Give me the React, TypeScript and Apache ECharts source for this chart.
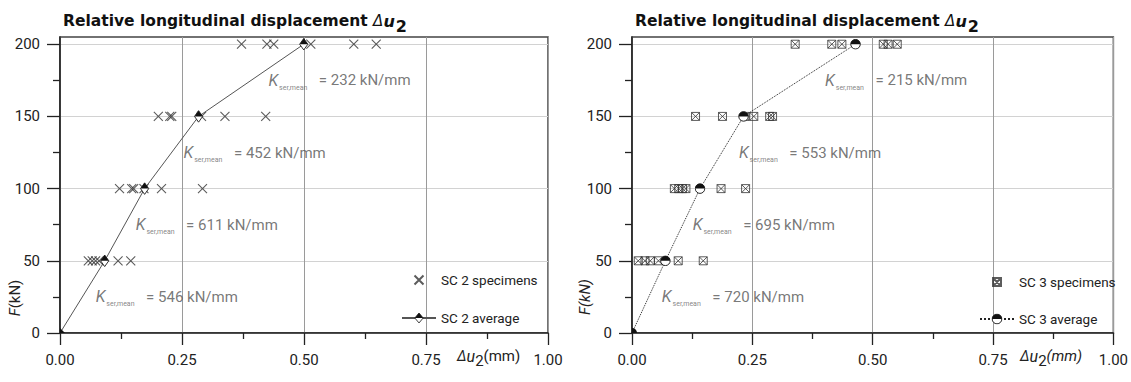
import React, { useEffect, useRef } from 'react';
import * as echarts from 'echarts';

// ---------- data ----------
const averageF = [0, 50, 100, 150, 200];
const specimenF = [50, 100, 150, 200];

const sc2Specimens = [
  [0.058, 0.066, 0.073, 0.08, 0.119, 0.145],
  [0.122, 0.147, 0.151, 0.172, 0.208, 0.292],
  [0.2015, 0.225, 0.229, 0.29, 0.338, 0.4215],
  [0.372, 0.424, 0.438, 0.514, 0.602, 0.648],
];
const sc2AverageX = [0, 0.0916, 0.1734, 0.284, 0.4995];

const sc3Specimens = [
  [0.013, 0.027, 0.038, 0.055, 0.096, 0.148],
  [0.088, 0.097, 0.105, 0.112, 0.185, 0.236],
  [0.132, 0.188, 0.235, 0.253, 0.286, 0.292],
  [0.339, 0.415, 0.436, 0.522, 0.532, 0.551],
];
const sc3AverageX = [0, 0.0694, 0.1413, 0.2317, 0.4643];

const sc2Stiffness = [546, 611, 452, 232];
const sc3Stiffness = [720, 695, 553, 215];
const sc2LabelX = [0.072, 0.154, 0.252, 0.426];
const sc3LabelX = [0.061, 0.125, 0.221, 0.4];
const labelF = [25, 75, 125, 175];

const yTickValues = [0, 50, 100, 150, 200];

// ---------- styles ----------
const FONT = 'Roboto, "Noto Sans", sans-serif';
const TITLE_FONT = '"DejaVu Sans", Roboto, sans-serif';

const svgImg = (svg: string) =>
  'image://data:image/svg+xml;charset=utf-8,' + encodeURIComponent(svg);

const diamondHalf = svgImg(
  '<svg xmlns="http://www.w3.org/2000/svg" width="12" height="14" viewBox="0 0 12 14">' +
    '<polygon points="6,0.8 11.2,7 6,13.2 0.8,7" fill="#fff" stroke="#111" stroke-width="1"/>' +
    '<polygon points="6,0.8 11.2,7 0.8,7" fill="#111"/></svg>'
);
const circleHalf = svgImg(
  '<svg xmlns="http://www.w3.org/2000/svg" width="12" height="12" viewBox="0 0 12 12">' +
    '<circle cx="6" cy="6" r="5.2" fill="#fff" stroke="#111" stroke-width="1"/>' +
    '<path d="M0.8,6 A5.2,5.2 0 0 1 11.2,6 Z" fill="#111"/></svg>'
);
// padded so that the legend icon keeps the same visible size as the marks
const crossSymbol = 'path://M0,0M14,14M2.5,2.5L11.5,11.5M11.5,2.5L2.5,11.5';
const boxCrossSymbol = 'path://M0,0M14,14M3,3L11,3L11,11L3,11ZM3,3L11,11M11,3L3,11';

function specimenPoints(rows: number[][]) {
  const pts: number[][] = [];
  rows.forEach((row, i) => row.forEach((x) => pts.push([x, specimenF[i]])));
  return pts;
}

const lineStyleAxis = { color: '#222', width: 1.3 };

function makeXAxis(gridIndex: number) {
  return {
    type: 'value',
    gridIndex,
    min: 0,
    max: 1,
    interval: 0.25,
    axisLine: { show: true, onZero: false, lineStyle: { color: '#222', width: 1.6 } },
    axisTick: { show: true, length: 12, lineStyle: lineStyleAxis },
    minorTick: { show: true, splitNumber: 2, length: 6, lineStyle: lineStyleAxis },
    axisLabel: {
      fontSize: 15,
      color: '#222',
      margin: 19,
      fontFamily: FONT,
      formatter: (v: number) => v.toFixed(2),
    },
    splitLine: { show: true, lineStyle: { color: '#9a9a9a', width: 1 } },
  };
}

function makeYAxis(gridIndex: number) {
  return {
    type: 'value',
    gridIndex,
    min: 0,
    max: 205,
    interval: 50,
    axisLine: { show: true, onZero: false, lineStyle: { color: '#222', width: 1.6 } },
    axisTick: { show: true, length: 13, customValues: yTickValues, lineStyle: lineStyleAxis },
    minorTick: { show: true, splitNumber: 2, length: 7, lineStyle: lineStyleAxis },
    axisLabel: {
      fontSize: 15,
      color: '#222',
      margin: 20,
      fontFamily: FONT,
      customValues: yTickValues,
    },
    splitLine: { show: true, lineStyle: { color: '#d2d2d2', width: 1 } },
  };
}

const annotationRich = {
  k: { fontSize: 16, fontStyle: 'italic', color: '#555', fontFamily: FONT },
  s: {
    fontSize: 7,
    color: '#666',
    fontFamily: FONT,
    width: 36,
    padding: [0, 0, 0, 1],
    verticalAlign: 'bottom',
    lineHeight: 8,
  },
  t: { fontSize: 15, color: '#555', fontFamily: FONT, lineHeight: 22 },
};

function annotationSeries(gridIndex: number, xs: number[], ks: number[]) {
  return {
    type: 'scatter',
    xAxisIndex: gridIndex,
    yAxisIndex: gridIndex,
    silent: true,
    symbolSize: 1,
    itemStyle: { color: 'rgba(0,0,0,0)' },
    z: 1,
    label: {
      show: true,
      position: 'right',
      distance: 0,
      rich: annotationRich,
    },
    data: xs.map((x, i) => ({
      value: [x, labelF[i]],
      label: { formatter: `{k|K}{s|ser,mean}{t| = ${ks[i]} kN/mm}` },
    })),
  };
}

const titleRich = {
  b: { fontSize: 15.5, fontWeight: 'bold', color: '#111', fontFamily: TITLE_FONT },
  d: { fontSize: 15, fontStyle: 'italic', fontWeight: 'normal', color: '#111', fontFamily: TITLE_FONT },
  u: { fontSize: 16, fontStyle: 'italic', fontWeight: 'bold', color: '#111', fontFamily: TITLE_FONT },
  s: { fontSize: 16, fontWeight: 'bold', color: '#111', fontFamily: TITLE_FONT, padding: [10, 0, 0, 1] },
};
const TITLE_TEXT = '{b|Relative longitudinal displacement }{d|Δ}{u|u}{s|2}';

const legendText = { fontSize: 13.5, color: '#222', fontFamily: FONT };

const App: React.FC = () => {
  const ref = useRef<HTMLDivElement>(null);

  useEffect(() => {
    if (!ref.current) return;
    const chart = echarts.init(ref.current, undefined, { renderer: 'svg' });

    const option: any = {
      animation: false,
      backgroundColor: '#fff',
      textStyle: { fontFamily: FONT },
      title: [
        { left: 58, top: 3, text: TITLE_TEXT, textStyle: { rich: titleRich } },
        { left: 630, top: 3, text: TITLE_TEXT, textStyle: { rich: titleRich } },
      ],
      grid: [
        { left: 60, top: 37, width: 488, height: 296, show: true, borderColor: '#444', borderWidth: 1.5 },
        { left: 632, top: 37, width: 489, height: 296, show: true, borderColor: '#444', borderWidth: 1.5 },
      ],
      xAxis: [makeXAxis(0), makeXAxis(1)],
      yAxis: [makeYAxis(0), makeYAxis(1)],
      legend: [
        {
          orient: 'vertical',
          left: 396,
          top: 267,
          itemWidth: 34,
          itemHeight: 14,
          itemGap: 23,
          selectedMode: false,
          data: ['SC 2 specimens', 'SC 2 average'],
          textStyle: legendText,
        },
        {
          orient: 'vertical',
          left: 974,
          top: 269,
          itemWidth: 34,
          itemHeight: 14,
          itemGap: 22,
          selectedMode: false,
          data: ['SC 3 specimens', 'SC 3 average'],
          textStyle: legendText,
        },
      ],
      series: [
        annotationSeries(0, sc2LabelX, sc2Stiffness),
        annotationSeries(1, sc3LabelX, sc3Stiffness),
        {
          name: 'SC 2 specimens',
          type: 'scatter',
          xAxisIndex: 0,
          yAxisIndex: 0,
          symbol: crossSymbol,
          symbolSize: 14,
          itemStyle: { color: 'rgba(0,0,0,0)', borderColor: '#333', borderWidth: 1.1 },
          z: 3,
          data: specimenPoints(sc2Specimens),
        },
        {
          name: 'SC 2 average',
          type: 'line',
          xAxisIndex: 0,
          yAxisIndex: 0,
          symbol: diamondHalf,
          symbolSize: [11, 13],
          lineStyle: { color: '#555', width: 1 },
          itemStyle: { color: '#111' },
          z: 5,
          data: sc2AverageX.map((x, i) =>
            i === 0
              ? {
                  value: [x, averageF[i]],
                  symbol: 'path://M0,0L0,10L10,10Z',
                  symbolSize: 5,
                  symbolOffset: [2.5, -2.5],
                  itemStyle: { color: '#111' },
                }
              : [x, averageF[i]]
          ),
        },
        {
          name: 'SC 3 specimens',
          type: 'scatter',
          xAxisIndex: 1,
          yAxisIndex: 1,
          symbol: boxCrossSymbol,
          symbolSize: 14,
          itemStyle: { color: 'rgba(0,0,0,0)', borderColor: '#333', borderWidth: 1 },
          z: 3,
          data: specimenPoints(sc3Specimens),
        },
        {
          name: 'SC 3 average',
          type: 'line',
          xAxisIndex: 1,
          yAxisIndex: 1,
          symbol: circleHalf,
          symbolSize: 11,
          lineStyle: { color: '#222', width: 1, type: 'dotted' },
          itemStyle: { color: '#111' },
          z: 5,
          data: sc3AverageX.map((x, i) =>
            i === 0
              ? {
                  value: [x, averageF[i]],
                  symbol: 'path://M0,10L0,0A10,10,0,0,1,10,10Z',
                  symbolSize: 5,
                  symbolOffset: [2.5, -2.5],
                  itemStyle: { color: '#111' },
                }
              : [x, averageF[i]]
          ),
        },
      ],
      graphic: [
        {
          type: 'text',
          x: 15,
          y: 298,
          rotation: Math.PI / 2,
          style: {
            text: '{i|F}{n|(kN)}',
            align: 'center',
            verticalAlign: 'middle',
            rich: {
              i: { fontSize: 15, fontStyle: 'italic', fill: '#222', fontFamily: FONT },
              n: { fontSize: 15, fill: '#222', fontFamily: FONT },
            },
          },
        },
        {
          type: 'text',
          x: 585,
          y: 297,
          rotation: Math.PI / 2,
          style: {
            text: '{i|F(kN)}',
            align: 'center',
            verticalAlign: 'middle',
            rich: {
              i: { fontSize: 15, fontStyle: 'italic', fill: '#222', fontFamily: FONT },
            },
          },
        },
        {
          type: 'text',
          x: 457,
          y: 356,
          style: {
            text: '{d|Δ}{u|u}{s|2}{n|(mm)}',
            align: 'left',
            verticalAlign: 'middle',
            rich: {
              d: { fontSize: 14, fontStyle: 'italic', fill: '#222', fontFamily: FONT },
              u: { fontSize: 16, fontStyle: 'italic', fill: '#222', fontFamily: FONT },
              s: { fontSize: 15, fill: '#222', fontFamily: FONT, padding: [9, 0, 0, 0] },
              n: { fontSize: 15, fill: '#222', fontFamily: FONT },
            },
          },
        },
        {
          type: 'text',
          x: 1020,
          y: 356,
          style: {
            text: '{d|Δ}{u|u}{s|2}{n|(mm)}',
            align: 'left',
            verticalAlign: 'middle',
            rich: {
              d: { fontSize: 14, fontStyle: 'italic', fill: '#222', fontFamily: FONT },
              u: { fontSize: 16, fontStyle: 'italic', fill: '#222', fontFamily: FONT },
              s: { fontSize: 15, fill: '#222', fontFamily: FONT, padding: [9, 0, 0, 0] },
              n: { fontSize: 15, fontStyle: 'italic', fill: '#222', fontFamily: FONT },
            },
          },
        },
      ],
    };

    chart.setOption(option);
    return () => chart.dispose();
  }, []);

  return (
    <div
      ref={ref}
      style={{ position: 'fixed', left: 0, top: 0, width: 1131, height: 382, background: '#fff' }}
    />
  );
};

export default App;
